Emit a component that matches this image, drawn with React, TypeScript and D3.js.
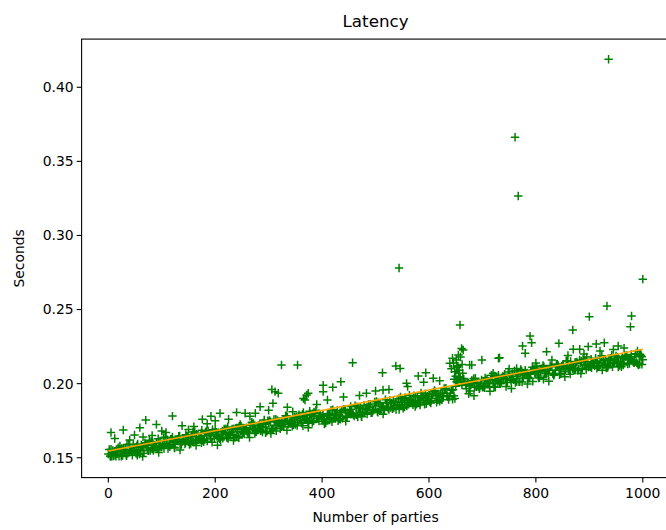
import * as d3 from 'd3'

// main band, read in interleaved passes (5 parties apart each)
const bandPartiesA = d3.range(0, 1001, 5)
const bandLatencyA = [
  0.1525, 0.1558, 0.1512, 0.1545, 0.1509, 0.1562, 0.1536, 0.1589, 0.1552, 0.1516, 0.1569, 0.1593, 0.1546, 0.1570, 0.1593, 0.1547, 0.1610, 0.1573, 0.1597, 0.1570,
  0.1574, 0.1597, 0.1621, 0.1574, 0.1638, 0.1601, 0.1625, 0.1598, 0.1621, 0.1655, 0.1608, 0.1642, 0.1605, 0.1659, 0.1632, 0.1686, 0.1649, 0.1612, 0.1666, 0.1689,
  0.1692, 0.1656, 0.1619, 0.1673, 0.1696, 0.1650, 0.1673, 0.1696, 0.1650, 0.1713, 0.1677, 0.1700, 0.1674, 0.1697, 0.1730, 0.1684, 0.1717, 0.1681, 0.1734, 0.1708,
  0.1741, 0.1695, 0.1758, 0.1721, 0.1745, 0.1718, 0.1742, 0.1775, 0.1729, 0.1762, 0.1725, 0.1779, 0.1752, 0.1806, 0.1769, 0.1733, 0.1786, 0.1809, 0.1763, 0.1786,
  0.1780, 0.1743, 0.1797, 0.1770, 0.1824, 0.1787, 0.1750, 0.1804, 0.1827, 0.1781, 0.1804, 0.1828, 0.1781, 0.1844, 0.1808, 0.1831, 0.1805, 0.1828, 0.1862, 0.1815,
  0.1849, 0.1872, 0.1826, 0.1849, 0.1872, 0.1826, 0.1869, 0.1853, 0.1876, 0.1850, 0.1873, 0.1906, 0.1860, 0.1893, 0.1857, 0.1910, 0.1884, 0.1937, 0.1900, 0.1864,
  0.1927, 0.1901, 0.1954, 0.1918, 0.1881, 0.1935, 0.1958, 0.1911, 0.1935, 0.1958, 0.1982, 0.2045, 0.2009, 0.2032, 0.1965, 0.1989, 0.2022, 0.1976, 0.2009, 0.1973,
  0.1976, 0.2039, 0.2003, 0.2026, 0.2000, 0.2023, 0.2057, 0.2010, 0.2043, 0.2007, 0.2060, 0.2034, 0.2087, 0.2050, 0.2014, 0.2067, 0.2091, 0.2044, 0.2068, 0.2091,
  0.2075, 0.2038, 0.2091, 0.2115, 0.2068, 0.2092, 0.2115, 0.2069, 0.2132, 0.2095, 0.2119, 0.2092, 0.2116, 0.2149, 0.2103, 0.2136, 0.2099, 0.2153, 0.2126, 0.2180,
  0.2123, 0.2147, 0.2120, 0.2143, 0.2177, 0.2120, 0.2154, 0.2117, 0.2171, 0.2144, 0.2187, 0.2151, 0.2114, 0.2168, 0.2191, 0.2135, 0.2158, 0.2181, 0.2135, 0.2198,
  0.2162,
]

const bandPartiesB = d3.range(1.7, 1000, 5)
const bandLatencyB = [
  0.1556, 0.1510, 0.1543, 0.1526, 0.1580, 0.1514, 0.1567, 0.1530, 0.1553, 0.1587, 0.1530, 0.1554, 0.1587, 0.1531, 0.1584, 0.1618, 0.1561, 0.1584, 0.1558, 0.1611,
  0.1585, 0.1638, 0.1562, 0.1625, 0.1589, 0.1612, 0.1646, 0.1589, 0.1612, 0.1646, 0.1589, 0.1643, 0.1676, 0.1620, 0.1643, 0.1617, 0.1670, 0.1683, 0.1627, 0.1670,
  0.1673, 0.1637, 0.1660, 0.1694, 0.1637, 0.1661, 0.1694, 0.1637, 0.1691, 0.1724, 0.1668, 0.1691, 0.1665, 0.1718, 0.1731, 0.1675, 0.1718, 0.1702, 0.1755, 0.1679,
  0.1752, 0.1696, 0.1719, 0.1752, 0.1696, 0.1749, 0.1783, 0.1726, 0.1750, 0.1723, 0.1776, 0.1790, 0.1733, 0.1777, 0.1760, 0.1814, 0.1737, 0.1800, 0.1764, 0.1787,
  0.1791, 0.1734, 0.1788, 0.1821, 0.1765, 0.1788, 0.1761, 0.1815, 0.1828, 0.1772, 0.1815, 0.1799, 0.1852, 0.1775, 0.1839, 0.1802, 0.1826, 0.1859, 0.1803, 0.1826,
  0.1880, 0.1823, 0.1847, 0.1820, 0.1873, 0.1887, 0.1830, 0.1874, 0.1857, 0.1911, 0.1834, 0.1897, 0.1861, 0.1884, 0.1918, 0.1861, 0.1885, 0.1918, 0.1861, 0.1915,
  0.1878, 0.1932, 0.1945, 0.1889, 0.1932, 0.1916, 0.1969, 0.1892, 0.1956, 0.1919, 0.2013, 0.2046, 0.1990, 0.2013, 0.2006, 0.1950, 0.2003, 0.2037, 0.1980, 0.2004,
  0.1977, 0.2020, 0.2004, 0.2057, 0.1981, 0.2044, 0.2008, 0.2031, 0.2064, 0.2008, 0.2031, 0.2065, 0.2008, 0.2061, 0.2095, 0.2038, 0.2062, 0.2035, 0.2089, 0.2102,
  0.2116, 0.2039, 0.2102, 0.2066, 0.2089, 0.2123, 0.2066, 0.2090, 0.2123, 0.2066, 0.2120, 0.2153, 0.2097, 0.2120, 0.2094, 0.2147, 0.2160, 0.2104, 0.2147, 0.2131,
  0.2114, 0.2138, 0.2171, 0.2114, 0.2138, 0.2161, 0.2105, 0.2158, 0.2192, 0.2135, 0.2148, 0.2122, 0.2175, 0.2189, 0.2132, 0.2166, 0.2149, 0.2202, 0.2126, 0.2189,
]

const bandPartiesC = d3.range(3.4, 1000, 5)
const bandLatencyC = [
  0.1512, 0.1550, 0.1516, 0.1567, 0.1541, 0.1554, 0.1518, 0.1591, 0.1544, 0.1538, 0.1581, 0.1525, 0.1578, 0.1602, 0.1565, 0.1549, 0.1602, 0.1585, 0.1629, 0.1572,
  0.1636, 0.1589, 0.1583, 0.1626, 0.1570, 0.1623, 0.1647, 0.1610, 0.1593, 0.1647, 0.1630, 0.1674, 0.1617, 0.1621, 0.1664, 0.1608, 0.1681, 0.1654, 0.1668, 0.1631,
  0.1644, 0.1628, 0.1681, 0.1665, 0.1708, 0.1652, 0.1655, 0.1698, 0.1642, 0.1715, 0.1689, 0.1702, 0.1666, 0.1739, 0.1692, 0.1686, 0.1729, 0.1673, 0.1726, 0.1750,
  0.1743, 0.1687, 0.1760, 0.1733, 0.1747, 0.1710, 0.1784, 0.1737, 0.1731, 0.1774, 0.1717, 0.1771, 0.1794, 0.1758, 0.1741, 0.1795, 0.1778, 0.1821, 0.1765, 0.1768,
  0.1762, 0.1755, 0.1799, 0.1742, 0.1796, 0.1819, 0.1782, 0.1766, 0.1819, 0.1803, 0.1846, 0.1790, 0.1793, 0.1836, 0.1780, 0.1853, 0.1827, 0.1840, 0.1804, 0.1877,
  0.1811, 0.1864, 0.1848, 0.1891, 0.1834, 0.1838, 0.1881, 0.1825, 0.1898, 0.1872, 0.1885, 0.1848, 0.1922, 0.1875, 0.1869, 0.1912, 0.1856, 0.1909, 0.1932, 0.1896,
  0.1869, 0.1943, 0.1916, 0.1930, 0.1893, 0.1967, 0.1920, 0.1913, 0.1957, 0.1900, 0.2024, 0.2047, 0.2011, 0.1994, 0.2007, 0.1991, 0.2034, 0.1978, 0.1981, 0.2025,
  0.1988, 0.2031, 0.1975, 0.2028, 0.2052, 0.2015, 0.1999, 0.2052, 0.2035, 0.2079, 0.2022, 0.2026, 0.2069, 0.2012, 0.2086, 0.2059, 0.2073, 0.2036, 0.2110, 0.2063,
  0.2097, 0.2080, 0.2123, 0.2067, 0.2070, 0.2114, 0.2057, 0.2131, 0.2104, 0.2117, 0.2081, 0.2154, 0.2108, 0.2101, 0.2145, 0.2088, 0.2141, 0.2165, 0.2128, 0.2112,
  0.2165, 0.2139, 0.2152, 0.2115, 0.2189, 0.2132, 0.2126, 0.2169, 0.2113, 0.2166, 0.2179, 0.2143, 0.2126, 0.2180, 0.2163, 0.2197, 0.2140, 0.2143, 0.2187, 0.2130,
]

// lower edge of the band, every 10 parties
const bandPartiesD = d3.range(4.2, 1000, 10)
const bandLatencyD = [
  0.1508, 0.1510, 0.1509, 0.1513, 0.1540, 0.1517, 0.1508, 0.1551, 0.1548, 0.1535,
  0.1562, 0.1589, 0.1566, 0.1552, 0.1599, 0.1596, 0.1583, 0.1600, 0.1627, 0.1604,
  0.1585, 0.1632, 0.1629, 0.1616, 0.1633, 0.1660, 0.1637, 0.1664, 0.1691, 0.1668,
  0.1664, 0.1681, 0.1708, 0.1685, 0.1712, 0.1739, 0.1716, 0.1703, 0.1750, 0.1747,
  0.1728, 0.1755, 0.1782, 0.1759, 0.1746, 0.1793, 0.1790, 0.1777, 0.1794, 0.1820,
  0.1807, 0.1794, 0.1841, 0.1838, 0.1825, 0.1842, 0.1869, 0.1846, 0.1873, 0.1900,
  0.1887, 0.1874, 0.1891, 0.1918, 0.1895, 0.2007, 0.2034, 0.1931, 0.1918, 0.1965,
  0.1972, 0.1949, 0.1976, 0.2003, 0.1980, 0.1967, 0.2014, 0.2011, 0.1998, 0.2015,
  0.2052, 0.2029, 0.2016, 0.2063, 0.2060, 0.2047, 0.2064, 0.2091, 0.2068, 0.2095,
  0.2107, 0.2104, 0.2091, 0.2108, 0.2135, 0.2112, 0.2139, 0.2166, 0.2143, 0.2130,
]

// stragglers above the band and outliers
const extraParties = [
  5, 12, 28, 40, 49, 59, 65, 70, 82, 90, 100, 108, 120, 138, 150, 160, 176, 185, 192, 200,
  209, 225, 240, 256, 265, 275, 284, 300, 306, 308, 312, 318, 324, 335, 345, 354, 365, 368, 371, 374,
  390, 402, 402, 410, 420, 435, 440, 457, 470, 483, 500, 513, 514, 525, 538, 544, 546, 558, 560, 580,
  590, 594, 608, 620, 639, 642, 644, 646, 647, 648, 650, 651, 652, 654, 655, 656, 657, 658, 659, 661,
  662, 663, 664, 676, 680, 699, 720, 730, 732, 750, 761, 764, 767, 775, 780, 789, 792, 800, 820, 830,
  843, 860, 869, 870, 882, 890, 898, 900, 913, 920, 928, 933, 936, 945, 954, 965, 977, 979, 990, 998,
  1000,
]
const extraLatency = [
  0.1670, 0.1630, 0.1687, 0.1620, 0.1653, 0.1703, 0.1640, 0.1754, 0.1650, 0.1725, 0.1680, 0.1670, 0.1781, 0.1716, 0.1690, 0.1710, 0.1759, 0.1730, 0.1780, 0.1750,
  0.1800, 0.1760, 0.1806, 0.1800, 0.1780, 0.1800, 0.1844, 0.1820, 0.1960, 0.1867, 0.1946, 0.1935, 0.2126, 0.1840, 0.1810, 0.2126, 0.1900, 0.1890, 0.1923, 0.1935,
  0.1860, 0.1990, 0.1946, 0.1890, 0.1975, 0.2013, 0.1910, 0.2141, 0.1920, 0.1935, 0.1950, 0.2074, 0.1957, 0.1960, 0.2119, 0.2780, 0.2103, 0.2002, 0.1980, 0.2051,
  0.2010, 0.2074, 0.2036, 0.2020, 0.2137, 0.2100, 0.2171, 0.2140, 0.2030, 0.2080, 0.2050, 0.2160, 0.2110, 0.2120, 0.2193, 0.2070, 0.2090, 0.2396, 0.2180, 0.2238,
  0.2130, 0.2070, 0.2227, 0.2126, 0.2126, 0.2160, 0.2070, 0.2171, 0.2175, 0.2100, 0.3663, 0.2103, 0.3266, 0.2254, 0.2205, 0.2321, 0.2276, 0.2140, 0.2216, 0.2160,
  0.2272, 0.2190, 0.2362, 0.2232, 0.2232, 0.2200, 0.2250, 0.2452, 0.2268, 0.2220, 0.2276, 0.2524, 0.4189, 0.2230, 0.2254, 0.2240, 0.2384, 0.2456, 0.2220, 0.2182,
  0.2705,
]

// linear fit
const trendParties = [0, 1000]
const trendLatency = [0.1545, 0.2232]

const xTicks = [0, 200, 400, 600, 800, 1000]
const yTicks = [0.15, 0.2, 0.25, 0.3, 0.35, 0.4]

const W = 666
const H = 530
const left = 81.6
const right = 669.5
const top = 39.1
const bottom = 477.6

export default function App() {
  const x = d3.scaleLinear().domain([-50, 1050]).range([left, right])
  const y = d3.scaleLinear().domain([0.1366, 0.4325]).range([bottom, top])

  const r = 4.2
  const plus = (px: number, py: number) =>
    `M${px - r},${py}h${2 * r}M${px},${py - r}v${2 * r}`

  const series: [number[], number[]][] = [
    [bandPartiesA, bandLatencyA],
    [bandPartiesB, bandLatencyB],
    [bandPartiesC, bandLatencyC],
    [bandPartiesD, bandLatencyD],
    [extraParties, extraLatency],
  ]
  let markers = ''
  series.forEach(([xs, ys]) => {
    xs.forEach((p, i) => {
      markers += plus(x(p), y(ys[i]))
    })
  })

  const trend = d3.line<number>()
    .x((d, i) => x(trendParties[i]))
    .y(d => y(d))(trendLatency)

  const font = 'DejaVu Sans, sans-serif'

  return (
    <svg width={W} height={H} style={{ position: 'absolute', left: 0, top: 0, background: '#fff' }}
      fontFamily={font}>
      <rect x={0} y={0} width={W} height={H} fill="#fff" />

      <path d={markers} stroke="#008000" strokeWidth={1.5} fill="none" />
      <path d={trend || ''} stroke="#ffa500" strokeWidth={1.6} fill="none" />

      {/* spines */}
      <rect x={left} y={top} width={right - left} height={bottom - top}
        fill="none" stroke="#000" strokeWidth={1.1} />

      {xTicks.map(t => (
        <g key={t} transform={`translate(${x(t)},${bottom})`}>
          <line y2={4.9} stroke="#000" strokeWidth={1.1} />
          <text y={20} textAnchor="middle" fontSize={13.9} fill="#000">{t}</text>
        </g>
      ))}
      {yTicks.map(t => (
        <g key={t} transform={`translate(${left},${y(t)})`}>
          <line x2={-4.9} stroke="#000" strokeWidth={1.1} />
          <text x={-8} dy="0.35em" textAnchor="end" fontSize={13.9} fill="#000">{t.toFixed(2)}</text>
        </g>
      ))}

      <text x={(left + right) / 2} y={27} textAnchor="middle" fontSize={16.7} fill="#000">Latency</text>
      <text x={(left + right) / 2} y={522} textAnchor="middle" fontSize={13.9} fill="#000">Number of parties</text>
      <text transform={`translate(24,${(top + bottom) / 2}) rotate(-90)`} textAnchor="middle"
        fontSize={13.9} fill="#000">Seconds</text>
    </svg>
  )
}
